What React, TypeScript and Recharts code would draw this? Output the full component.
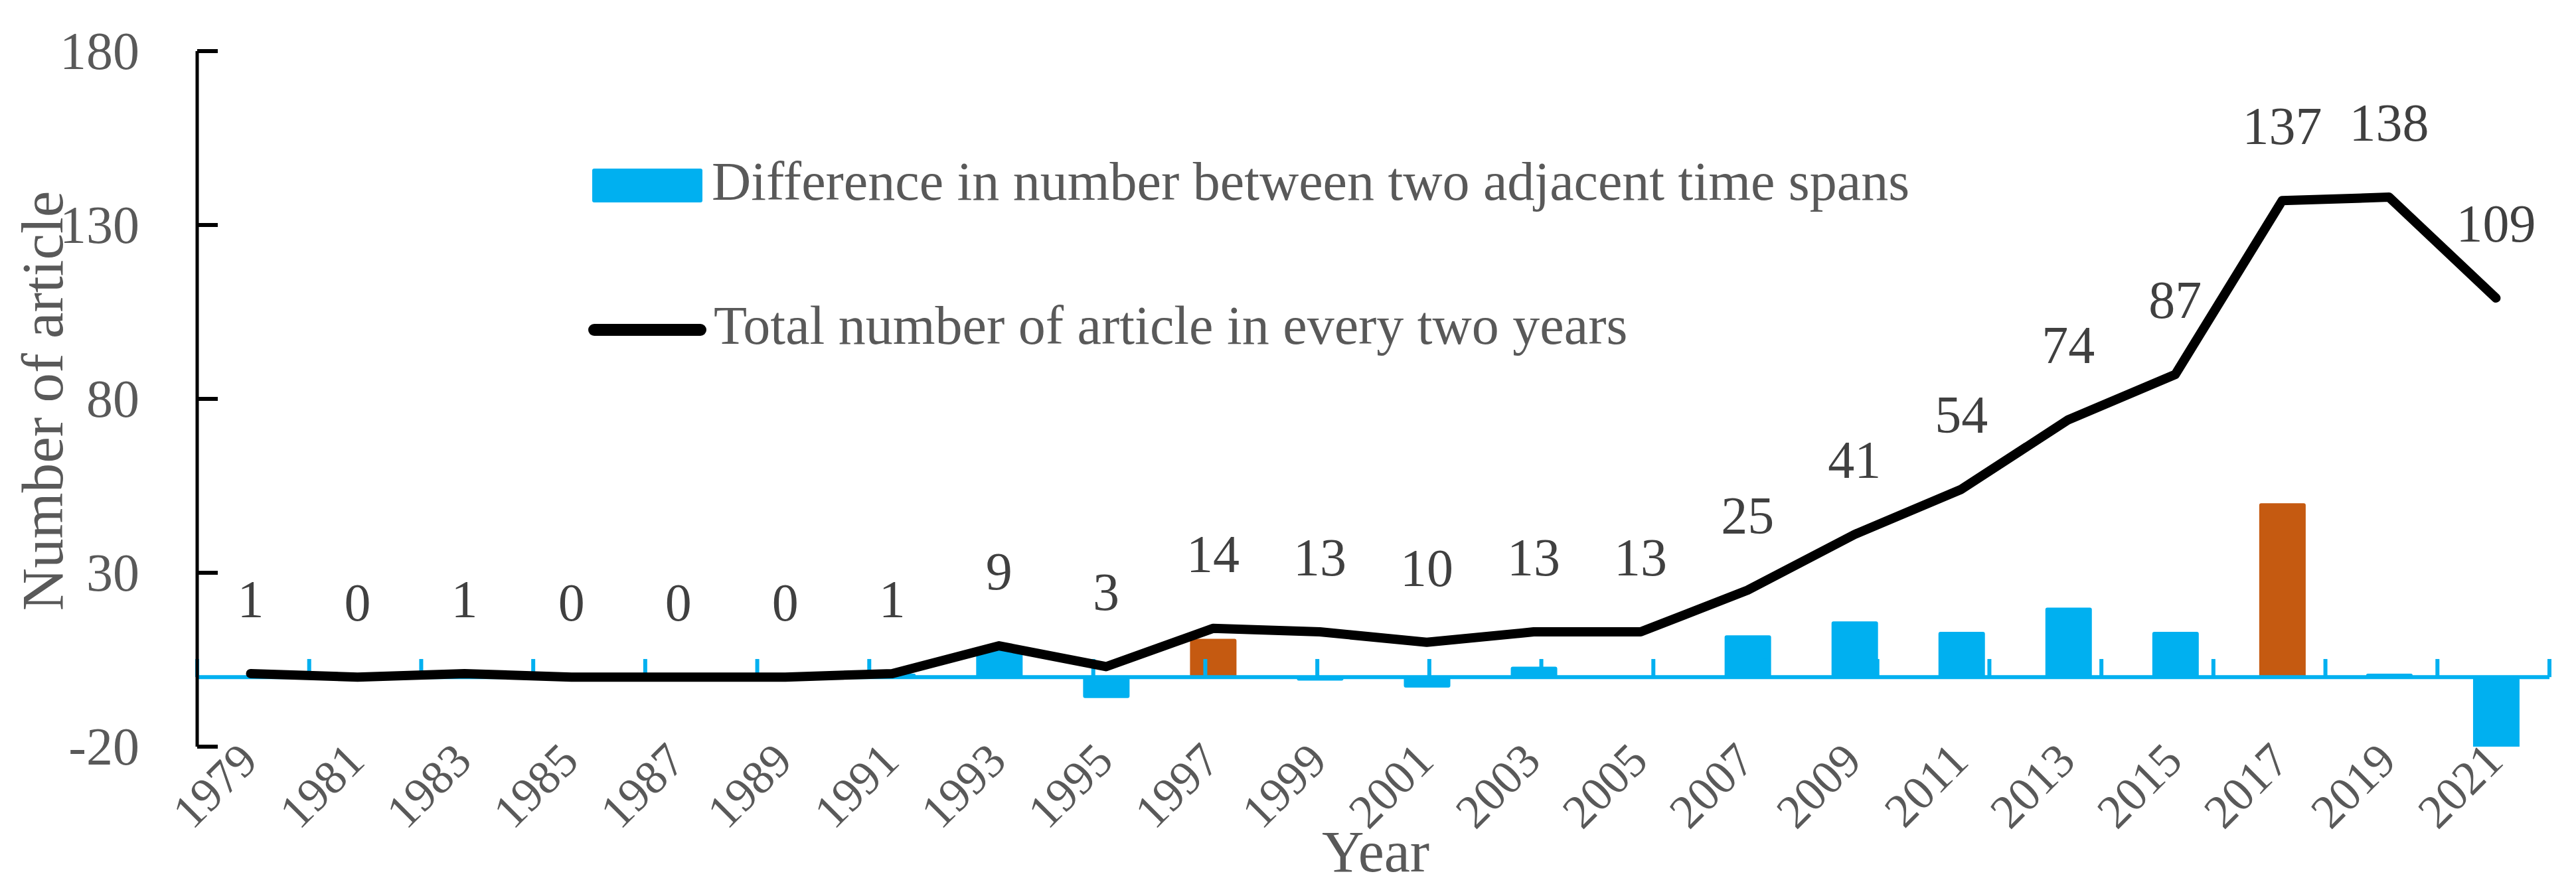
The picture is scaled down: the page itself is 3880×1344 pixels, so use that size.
import React from "react";
import {
  Bar,
  Cell,
  ComposedChart,
  LabelList,
  Legend,
  Line,
  ReferenceLine,
  XAxis,
  YAxis,
} from "recharts";

const years = [
  "1979", "1981", "1983", "1985", "1987", "1989", "1991", "1993", "1995", "1997", "1999",
  "2001", "2003", "2005", "2007", "2009", "2011", "2013", "2015", "2017", "2019", "2021",
];
const totals = [1, 0, 1, 0, 0, 0, 1, 9, 3, 14, 13, 10, 13, 13, 25, 41, 54, 74, 87, 137, 138, 109];
const differences = [null, -1, 1, -1, 0, 0, 1, 8, -6, 11, -1, -3, 3, 0, 12, 16, 13, 20, 13, 50, 1, -29];
const highlightedYears = ["1997", "2017"];
const yTicks = [-20, 30, 80, 130, 180];
const boundaries = Array.from({ length: years.length + 1 }, (_, i) => i);

const BAR_NAME = "Difference in number between two adjacent time spans";
const LINE_NAME = "Total number of article in every two years";

const BLUE = "#00B0F0";
const ORANGE = "#C55A11";
const INK = "#595959";
const FONT = "'Liberation Serif', 'Times New Roman', serif";

const data = years.map((year, i) => ({ year, total: totals[i], diff: differences[i] }));

function YearTick({ x, y, payload }: any) {
  const tx = x + 14;
  const ty = y + 25;
  return (
    <text
      x={tx}
      y={ty}
      transform={`rotate(-45 ${tx} ${ty})`}
      textAnchor="end"
      fontSize={72}
      fontFamily={FONT}
      fill={INK}
    >
      {payload.value}
    </text>
  );
}

function CountTick({ x, y, payload }: any) {
  return (
    <g>
      <line x1={x} x2={x + 31} y1={y} y2={y} stroke="#000" strokeWidth={6} />
      <text
        x={x - 87}
        y={y}
        textAnchor="end"
        dominantBaseline="central"
        fontSize={80}
        fontFamily={FONT}
        fill={INK}
      >
        {payload.value}
      </text>
    </g>
  );
}

function LegendBox() {
  return (
    <svg width={2300} height={320} style={{ display: "block", overflow: "visible" }}>
      <rect x={12} y={24} width={166} height={51} rx={3} fill={BLUE} />
      <text x={192} y={71} fontSize={82} fontFamily={FONT} fill={INK}>
        {BAR_NAME}
      </text>
      <line x1={15} x2={175} y1={267} y2={267} stroke="#000" strokeWidth={18} strokeLinecap="round" />
      <text x={195} y={288} fontSize={82} fontFamily={FONT} fill={INK}>
        {LINE_NAME}
      </text>
    </svg>
  );
}

export default function App() {
  return (
    <div style={{ position: "absolute", left: 0, top: 0, background: "#fff" }}>
      <ComposedChart
        width={3880}
        height={1344}
        data={data}
        margin={{ top: 77, right: 40, bottom: 0, left: 0 }}
      >
        <XAxis
          dataKey="year"
          height={219}
          axisLine={false}
          tickLine={false}
          tickSize={0}
          tickMargin={0}
          interval={0}
          tick={<YearTick />}
          label={{
            content: () => (
              <text x={2072} y={1313} textAnchor="middle" fontSize={88} fontFamily={FONT} fill={INK}>
                Year
              </text>
            ),
          }}
        />
        <XAxis xAxisId="edges" type="number" domain={[0, years.length]} hide />
        <YAxis
          domain={[-20, 180]}
          ticks={yTicks}
          allowDataOverflow
          width={297}
          axisLine={{ stroke: "#000", strokeWidth: 5 }}
          tickLine={false}
          tickSize={0}
          tickMargin={0}
          tick={<CountTick />}
          label={{
            content: () => (
              <text
                x={94}
                y={604}
                transform="rotate(-90 94 604)"
                textAnchor="middle"
                fontSize={89}
                fontFamily={FONT}
                fill={INK}
              >
                Number of article
              </text>
            ),
          }}
        />
        <Legend
          layout="vertical"
          align="center"
          verticalAlign="middle"
          wrapperStyle={{ left: 880, top: 230, width: 2300, height: 320 }}
          content={() => <LegendBox />}
        />
        <ReferenceLine y={0} stroke={BLUE} strokeWidth={6} />
        {boundaries.map((b) => (
          <ReferenceLine
            key={b}
            xAxisId="edges"
            segment={[
              { x: b, y: 0 },
              { x: b, y: 5.2 },
            ]}
            stroke={BLUE}
            strokeWidth={6}
          />
        ))}
        <Bar dataKey="diff" name={BAR_NAME} barSize={70} radius={3} fill={BLUE} isAnimationActive={false}>
          {data.map((d) => (
            <Cell key={d.year} fill={highlightedYears.includes(d.year) ? ORANGE : BLUE} />
          ))}
        </Bar>
        <Line
          type="linear"
          dataKey="total"
          name={LINE_NAME}
          stroke="#000"
          strokeWidth={14}
          strokeLinecap="round"
          strokeLinejoin="round"
          dot={false}
          activeDot={false}
          isAnimationActive={false}
        >
          <LabelList
            dataKey="total"
            position="top"
            offset={85}
            fontSize={80}
            fontFamily={FONT}
            fill="#404040"
          />
        </Line>
      </ComposedChart>
    </div>
  );
}
